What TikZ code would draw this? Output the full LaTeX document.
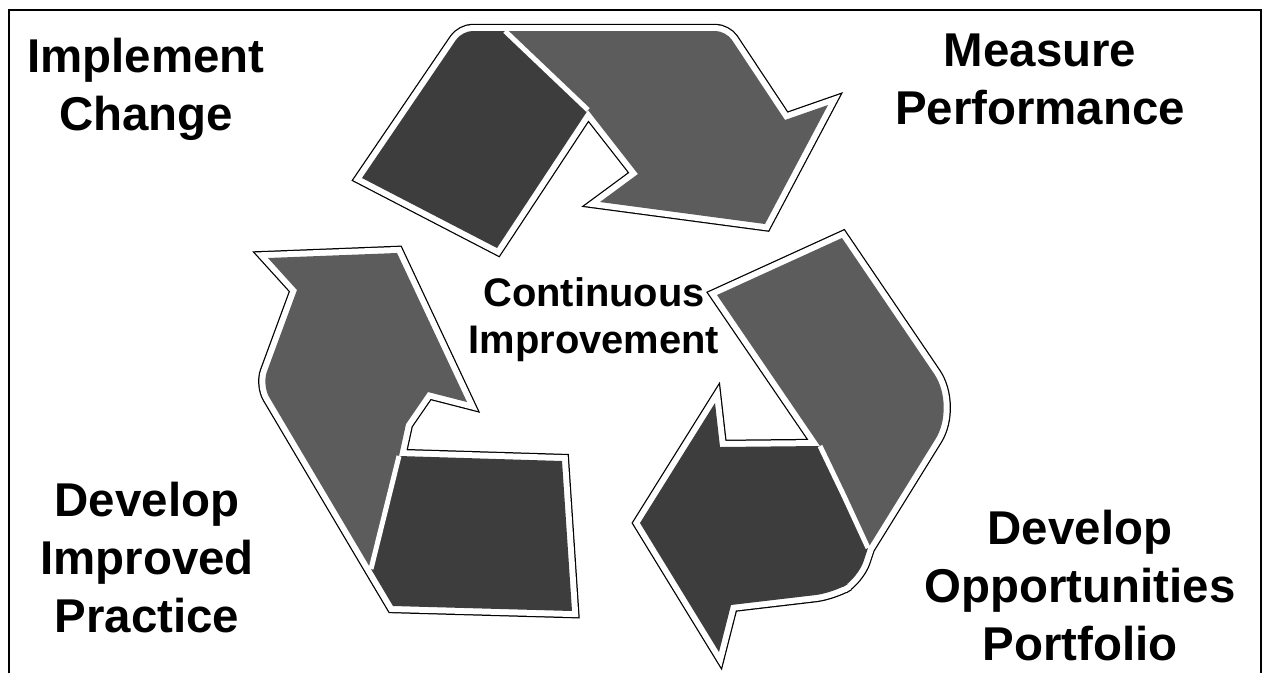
\documentclass[tikz,border=0pt]{standalone}
\usepackage{fontspec}
\setmainfont{Liberation Sans}
\definecolor{darkpanel}{gray}{0.24}
\definecolor{lightpanel}{gray}{0.36}

% the six panels of the three arrows
\newcommand{\topdark}{(362,178) [rounded corners=6pt] -- (462,31) [sharp corners] -- (505,31) -- (588,110) -- (497,248) -- cycle}
\newcommand{\toplight}{(505,31) [rounded corners=6pt] -- (726,31) [sharp corners] -- (785,120) -- (828,105) -- (765,224) -- (600,202) -- (638,174) -- (588,110) -- cycle}
\newcommand{\leftlight}{(268,258) -- (397,253) -- (467,402) -- (428,392) -- (406,424) -- (399,456) -- (371,569) [rounded corners=8pt] -- (262,385) [sharp corners] -- (297,290) -- cycle}
\newcommand{\leftdark}{(399,456) -- (562,461) -- (572,611) -- (393,606) -- (371,569) -- cycle}
\newcommand{\rightlight}{(717,295) -- (842,238) [rounded corners=22pt] -- (956,406) [sharp corners] -- (868,548) -- (844,496) -- (820,446) -- cycle}
\newcommand{\rightdark}{(715,403) -- (720,447) -- (820,446) -- (844,496) -- (868,548) [rounded corners=10pt] -- (858,578) -- (833,593) [sharp corners] -- (731,605) -- (719,652) -- (640,523) -- cycle}

\begin{document}
\begin{tikzpicture}[x=0.02cm, y=-0.02cm,
    rimblack/.style={draw=black, line width=0.29cm, line join=miter},
    rimwhite/.style={draw=white, line width=0.24cm, line join=miter},
    seam/.style={draw=white, line width=0.1cm},
    label/.style={align=center, font=\fontsize{27}{33}\selectfont\bfseries}]
    \useasboundingbox (0,0) rectangle (1263,673);

    % Frame
    \draw[line width=0.6pt] (9,673) -- (9,10) -- (1261,10) -- (1261,673);

    % Arrows: black rim, white rim, then the panels
    \draw[rimblack] \topdark \toplight \leftlight \leftdark \rightlight \rightdark;
    \draw[rimwhite] \topdark \toplight \leftlight \leftdark \rightlight \rightdark;
    \fill[darkpanel] \topdark;
    \fill[lightpanel] \toplight;
    \fill[lightpanel] \leftlight;
    \fill[darkpanel] \leftdark;
    \fill[lightpanel] \rightlight;
    \fill[darkpanel] \rightdark;

    % Folds
    \draw[seam] (505,31) -- (588,110);
    \draw[seam] (399,456) -- (371,569);
    \draw[seam] (820,446) -- (844,496) -- (868,548);

    % Labels
    \node[label] (implement) at (146,89) {Implement\\Change};
    \node[label] (measure) at (1040,79) {Measure\\Performance};
    \node[label] (practice) at (147,558) {Develop\\Improved\\Practice};
    \node[label] (portfolio) at (1080,586) {Develop\\Opportunities\\Portfolio};
    \node[align=center, font=\fontsize{22.7}{26.6}\selectfont\bfseries] (continuous) at (594,320) {Continuous\\Improvement};
\end{tikzpicture}
\end{document}
